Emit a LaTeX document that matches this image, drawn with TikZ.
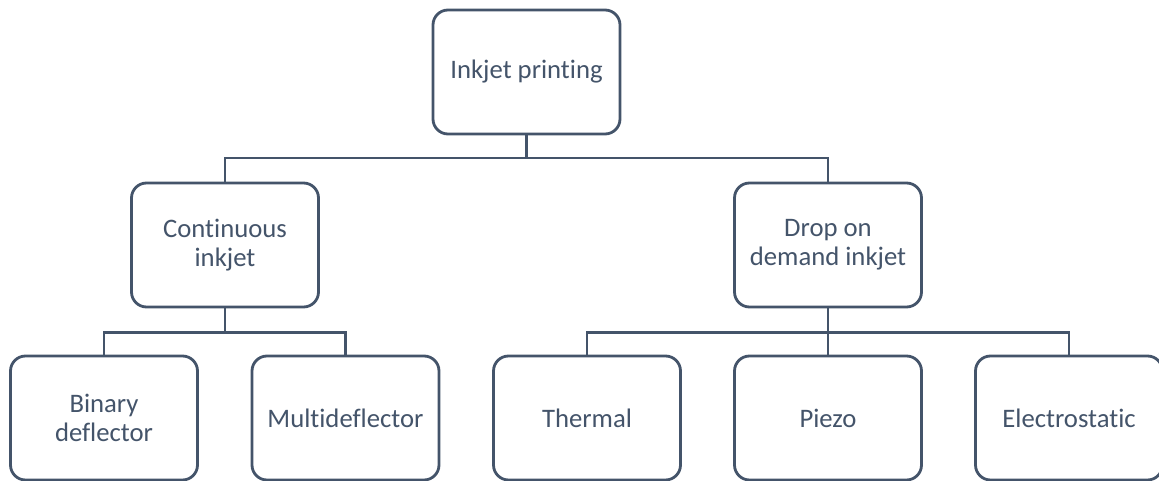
\documentclass[tikz,border=0pt]{standalone}
\usepackage{fontspec}
\setmainfont[Ligatures=NoCommon]{Carlito}
\definecolor{slate}{HTML}{44546A}
\begin{document}
\begin{tikzpicture}[x=1pt,y=-1pt,
  box/.style={draw=slate, line width=2.8pt, rounded corners=15pt, fill=white,
    minimum width=187pt, minimum height=124pt, inner sep=0pt,
    align=center, text=slate, font=\fontsize{26.7}{29}\selectfont},
  link/.style={draw=slate, line width=2.8pt}]
\useasboundingbox (0,0) rectangle (1159,481);
% levels of the tree
\node[box] (root) at (526.5,72) {Inkjet printing};
\node[box] (cont) at (225,245) {Continuous\\inkjet};
\node[box] (dod)  at (828,245) {Drop on\\demand inkjet};
\node[box] (bin)  at (104,418) {Binary\\deflector};
\node[box] (multi) at (345.5,418) {Multideflector};
\node[box] (therm) at (587,418) {Thermal};
\node[box] (piezo) at (828,418) {Piezo};
\node[box] (elec) at (1069,418) {Electrostatic};
% junctions of the elbow connectors
\coordinate (j1) at (526.5,158);
\coordinate (j2) at (225,332.5);
\coordinate (j3) at (828,332.5);
\draw[link] (root.south) -- (j1) -| (cont.north);
\draw[link] (j1) -| (dod.north);
\draw[link] (cont.south) -- (j2) -| (bin.north);
\draw[link] (j2) -| (multi.north);
\draw[link] (dod.south) -- (j3) -- (piezo.north);
\draw[link] (j3) -| (therm.north);
\draw[link] (j3) -| (elec.north);
\end{tikzpicture}
\end{document}
